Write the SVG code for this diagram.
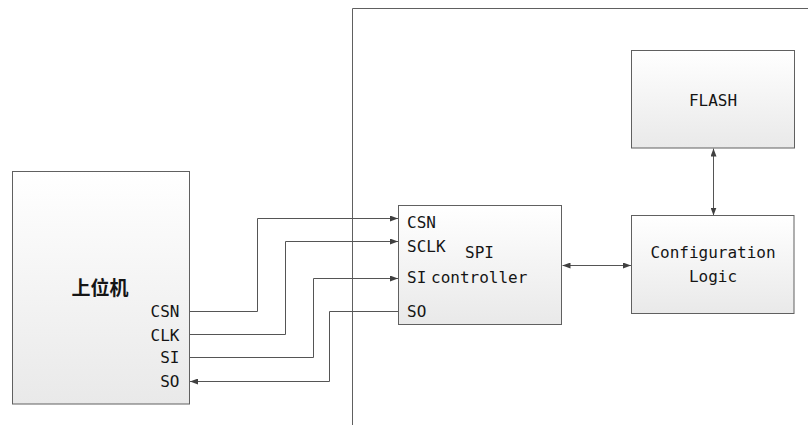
<svg xmlns="http://www.w3.org/2000/svg" width="808" height="425" viewBox="0 0 808 425">
<style>
.box{fill:url(#g);stroke:#606060;stroke-width:1}
.t{font-family:"DejaVu Sans Mono","Liberation Mono",monospace;font-size:16px;fill:#151515}
.cj{font-family:"Noto Sans CJK SC","Noto Sans CJK TC",sans-serif;font-size:19px;font-weight:bold;fill:#151515}
.c{fill:none;stroke:#555;stroke-width:1}
</style>
<defs>
<linearGradient id="g" x1="0" y1="0" x2="0" y2="1">
<stop offset="0" stop-color="#ffffff"/>
<stop offset="1" stop-color="#e9e9e9"/>
</linearGradient>
<marker id="ah" viewBox="0 0 8 6" refX="8" refY="3" markerWidth="8" markerHeight="6" markerUnits="userSpaceOnUse" orient="auto-start-reverse">
<path d="M0,0 L8,3 L0,6 z" fill="#404040"/>
</marker>
</defs>
<rect width="808" height="425" fill="#ffffff"/>
<g id="system">
<path d="M352.5,425 V8.5 H808" fill="none" stroke="#606060" stroke-width="1"/>
</g>
<g id="connectors">
<path class="c" d="M189.5,311.5 H257.5 V218.5 H398" marker-end="url(#ah)"/>
<path class="c" d="M189.5,334.5 H285.5 V241.5 H398" marker-end="url(#ah)"/>
<path class="c" d="M189.5,357.5 H313.5 V278.5 H398" marker-end="url(#ah)"/>
<path class="c" d="M398,311.5 H329.5 V381.5 H190" marker-end="url(#ah)"/>
<path class="c" d="M562.5,265.5 H631" marker-start="url(#ah)" marker-end="url(#ah)"/>
<path class="c" d="M713.5,148.5 V215.5" marker-start="url(#ah)" marker-end="url(#ah)"/>
</g>
<g id="host">
<rect class="box" x="12.5" y="171.5" width="177" height="232.5"/>
<text class="cj" x="71.5" y="294.5">上位机</text>
<text class="t" x="179.5" y="316.7" text-anchor="end">CSN</text>
<text class="t" x="179.5" y="340.5" text-anchor="end">CLK</text>
<text class="t" x="179.5" y="363.3" text-anchor="end">SI</text>
<text class="t" x="179.5" y="387.3" text-anchor="end">SO</text>
</g>
<g id="spi">
<rect class="box" x="398.5" y="205.5" width="163" height="119"/>
<text class="t" x="407" y="228.3">CSN</text>
<text class="t" x="407" y="251.7">SCLK</text>
<text class="t" x="465" y="258.3">SPI</text>
<text class="t" x="407" y="283.3">SI</text>
<text class="t" x="431" y="283.3">controller</text>
<text class="t" x="407" y="316.7">SO</text>
</g>
<g id="flash">
<rect class="box" x="631.5" y="50.5" width="163" height="97.5"/>
<text class="t" x="713" y="106" text-anchor="middle">FLASH</text>
</g>
<g id="config">
<rect class="box" x="631.5" y="215.5" width="162.5" height="98"/>
<text class="t" x="713" y="258.3" text-anchor="middle">Configuration</text>
<text class="t" x="713" y="281.7" text-anchor="middle">Logic</text>
</g>
</svg>
